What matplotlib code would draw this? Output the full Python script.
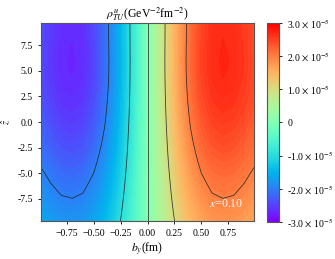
import matplotlib
matplotlib.use('Agg')
import matplotlib.pyplot as plt
import numpy as np

plt.rcParams['font.family'] = ['Liberation Serif', 'DejaVu Serif']
plt.rcParams['mathtext.fontset'] = 'stix'

# transverse position b_y (fm) and the profile read across it
b_y = [-0.99, -0.9, -0.8, -0.7, -0.6, -0.5, -0.4, -0.3, -0.2, -0.1, 0.0,
       0.1, 0.2, 0.3, 0.4, 0.5, 0.6, 0.7, 0.8, 0.9, 0.99]
by_profile = [-0.895, -0.945, -0.988, -1.0, -0.979, -0.913, -0.800, -0.645, -0.452, -0.233, 0.0,
              0.233, 0.452, 0.645, 0.800, 0.913, 0.979, 1.0, 0.988, 0.945, 0.895]

# z positions and the strength read along z
z_vals = [-9.7, -9, -8, -7, -6, -5, -4, -3, -2, -1, 0,
          1, 2, 3, 4, 5, 6, 7, 8, 9, 9.7]
z_profile = [0.604, 0.625, 0.652, 0.680, 0.705, 0.730, 0.757, 0.782, 0.805, 0.825, 0.845,
             0.862, 0.877, 0.889, 0.898, 0.904, 0.906, 0.904, 0.901, 0.898, 0.896]

amplitude = 3.0e-5
line_levels = [-2e-5, -1e-5, 0.0, 1e-5, 2e-5]
cbar_ticks = [-3e-5, -2e-5, -1e-5, 0.0, 1e-5, 2e-5, 3e-5]
cbar_labels = [r'-3.0 $\times$ 10$^{-5}$', r'-2.0 $\times$ 10$^{-5}$', r'-1.0 $\times$ 10$^{-5}$',
               '0', r'1.0 $\times$ 10$^{-5}$', r'2.0 $\times$ 10$^{-5}$', r'3.0 $\times$ 10$^{-5}$']

rho = amplitude * np.outer(z_profile, by_profile)
B, Z = np.meshgrid(b_y, z_vals)

fig = plt.figure(figsize=(3.35, 2.59), dpi=100)
ax = fig.add_axes([41 / 335, 38 / 259, 213 / 335, 198 / 259])
cax = fig.add_axes([267 / 335, 37 / 259, 12 / 335, 199 / 259])

cf = ax.contourf(B, Z, rho, levels=np.linspace(-3e-5, 3e-5, 101), cmap='rainbow')
ax.contour(B, Z, rho, levels=line_levels, colors='#222222', linewidths=0.6,
           linestyles='solid', alpha=0.85)

ax.set_xlim(-0.99, 0.99)
ax.set_ylim(-9.7, 9.7)
ax.set_xticks([-0.75, -0.5, -0.25, 0, 0.25, 0.5, 0.75])
ax.set_xticklabels(['\u22120.75', '\u22120.50', '\u22120.25', '0.00', '0.25', '0.50', '0.75'])
ax.set_yticks([-7.5, -5, -2.5, 0, 2.5, 5, 7.5])
ax.set_yticklabels(['-7.5', '-5.0', '-2.5', '0.0', '2.5', '5.0', '7.5'])
ax.tick_params(labelsize=7, length=2.5, width=0.6)
for s in ax.spines.values():
    s.set_color('#555555')

ax.set_title(r'$\rho^{u}_{TU}$(GeV$^{-2}$fm$^{-2}$)', fontsize=8.5, pad=2)
ax.set_xlabel(r'$b_y$(fm)', fontsize=8.5, labelpad=1)
ax.set_ylabel(r'$\hat{z}$', fontsize=7.5, labelpad=4)
ax.text(0.73, -8.0, r'$x$=0.10', color='white', fontsize=8.5, ha='center', va='center')

cb = fig.colorbar(cf, cax=cax, ticks=cbar_ticks)
cb.ax.set_yticklabels(cbar_labels)
cb.ax.tick_params(labelsize=7, length=2.5, width=0.6)
cb.outline.set_edgecolor('#555555')

plt.savefig('out.png', dpi=100)
